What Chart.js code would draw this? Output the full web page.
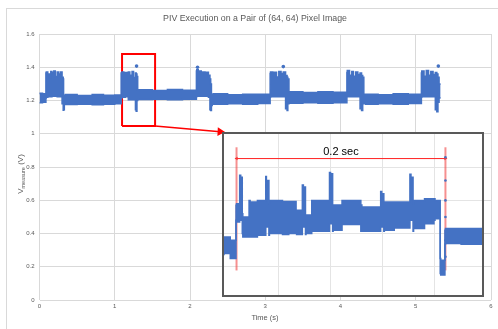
<!DOCTYPE html>
<html>
<head>
<meta charset="utf-8">
<script src="https://cdn.jsdelivr.net/npm/chart.js@4.4.1/dist/chart.umd.min.js"></script>
<style>
    html, body { margin: 0; padding: 0; background: #fff; }
    #wrap { position: relative; width: 498px; height: 329px; overflow: hidden; }
    #frame { position: absolute; left: 6px; top: 8px; width: 600px; height: 400px; border-left: 1px solid #d9d9d9; border-top: 1px solid #d9d9d9; }
    #mainChart { position: absolute; left: 0; top: 0; }
    #insetBox { position: absolute; background: #fff; border: 2px solid #595959; box-sizing: border-box; }
    #insetChart { display: block; }
</style>
</head>
<body>
<div id="wrap">
    <div id="frame"></div>
    <canvas id="mainChart" width="498" height="329"></canvas>
    <div id="insetBox"><canvas id="insetChart"></canvas></div>
</div>
<script>
const FONT = "'Liberation Sans', Arial, sans-serif";
const BLUE = '#4472C4';

// main trace, drawn as the band between an upper and a lower envelope
const mainT = [0.00, 0.04, 0.085, 0.09, 0.11, 0.13, 0.15, 0.165, 0.19, 0.21, 0.235, 0.255, 0.28, 0.30, 0.315, 0.32, 0.33, 0.345,
    0.50, 0.70, 0.85, 1.00, 1.085, 1.095, 1.12, 1.14, 1.16, 1.18, 1.20, 1.23, 1.25, 1.275, 1.285, 1.295, 1.305, 1.315,
    1.50, 1.70, 1.90, 2.085, 2.09, 2.11, 2.13, 2.15, 2.17, 2.20, 2.22, 2.245, 2.265, 2.275, 2.285, 2.295, 2.31,
    2.50, 2.70, 2.90, 3.065, 3.07, 3.10, 3.12, 3.15, 3.18, 3.21, 3.24, 3.27, 3.29, 3.30, 3.315, 3.325,
    3.50, 3.70, 3.90, 4.085, 4.09, 4.12, 4.15, 4.17, 4.20, 4.23, 4.26, 4.28, 4.295, 4.31, 4.335,
    4.50, 4.70, 4.90, 5.075, 5.08, 5.11, 5.14, 5.17, 5.20, 5.23, 5.26, 5.28, 5.295, 5.31, 5.33];
const mainHi = [1.238, 1.243, 1.240, 1.365, 1.372, 1.360, 1.335, 1.375, 1.368, 1.378, 1.345, 1.372, 1.360, 1.372, 1.340, 1.330, 1.232, 1.232,
    1.236, 1.230, 1.236, 1.232, 1.233, 1.365, 1.372, 1.340, 1.368, 1.335, 1.372, 1.352, 1.375, 1.338, 1.365, 1.360, 1.345, 1.262,
    1.265, 1.260, 1.266, 1.262, 1.378, 1.385, 1.362, 1.378, 1.352, 1.372, 1.342, 1.370, 1.352, 1.330, 1.300, 1.237, 1.237,
    1.240, 1.235, 1.238, 1.237, 1.362, 1.372, 1.352, 1.370, 1.342, 1.375, 1.362, 1.372, 1.350, 1.340, 1.330, 1.250,
    1.252, 1.248, 1.253, 1.250, 1.368, 1.380, 1.352, 1.375, 1.346, 1.372, 1.356, 1.365, 1.350, 1.340, 1.237,
    1.238, 1.235, 1.240, 1.237, 1.365, 1.378, 1.346, 1.380, 1.352, 1.375, 1.356, 1.368, 1.360, 1.340, 1.300];
const mainLo = [1.188, 1.186, 1.190, 1.215, 1.220, 1.222, 1.222, 1.222, 1.225, 1.225, 1.225, 1.222, 1.222, 1.222, 1.180, 1.142, 1.145, 1.178,
    1.176, 1.178, 1.175, 1.178, 1.180, 1.215, 1.220, 1.220, 1.222, 1.222, 1.205, 1.205, 1.205, 1.205, 1.145, 1.135, 1.200, 1.207,
    1.206, 1.208, 1.205, 1.208, 1.222, 1.225, 1.225, 1.225, 1.225, 1.225, 1.225, 1.225, 1.220, 1.145, 1.140, 1.170, 1.180,
    1.178, 1.180, 1.178, 1.182, 1.220, 1.222, 1.222, 1.222, 1.222, 1.222, 1.222, 1.222, 1.150, 1.140, 1.180, 1.185,
    1.184, 1.186, 1.183, 1.186, 1.222, 1.222, 1.222, 1.222, 1.222, 1.222, 1.222, 1.150, 1.140, 1.185, 1.180,
    1.178, 1.180, 1.178, 1.182, 1.220, 1.222, 1.222, 1.222, 1.222, 1.222, 1.222, 1.145, 1.133, 1.190, 1.215];

// isolated high points above the bursts
const spikeT = [1.29, 2.10, 3.24, 5.30];
const spikeV = [1.407, 1.400, 1.404, 1.407];

// red zoom rectangle and the arrow to the inset
const zoomBoxT = [1.097, 1.097, 1.536, 1.536, 1.097];
const zoomBoxV = [1.047, 1.480, 1.480, 1.047, 1.047];
const arrowT = [1.536, 2.40];
const arrowV = [1.047, 1.012];

// where the inset sits, in main chart units
const insetBoxT = [2.427, 5.911];
const insetBoxV = [1.0105, 0.018];

// inset trace (time in ms)
const insetT = [-2, 4, 9.5, 10, 13, 14, 15.5, 16, 22, 23, 30, 38, 38.6, 41, 41.5, 54, 60, 67, 67.5, 73,
    74, 76, 76.5, 82, 83, 99, 100, 102, 102.5, 111, 111.5, 129, 130, 148, 149, 151, 151.5, 161, 162, 176,
    177, 179, 179.5, 190, 199, 200, 205, 205.5, 209.5, 210, 225, 245];
const insetHi = [1.185, 1.19, 1.18, 1.285, 1.29, 1.376, 1.37, 1.26, 1.25, 1.30, 1.295, 1.30, 1.372, 1.36, 1.29, 1.30, 1.297, 1.297, 1.27, 1.27,
    1.346, 1.34, 1.256, 1.256, 1.30, 1.30, 1.384, 1.38, 1.286, 1.286, 1.30, 1.30, 1.286, 1.28, 1.327, 1.32, 1.295, 1.295, 1.295, 1.295,
    1.379, 1.37, 1.29, 1.30, 1.305, 1.305, 1.30, 1.125, 1.12, 1.21, 1.215, 1.215];
const insetLo = [1.135, 1.14, 1.125, 1.24, 1.235, 1.25, 1.24, 1.20, 1.19, 1.195, 1.19, 1.195, 1.22, 1.22, 1.195, 1.20, 1.197, 1.20, 1.20, 1.197,
    1.22, 1.22, 1.197, 1.20, 1.207, 1.207, 1.23, 1.23, 1.207, 1.21, 1.227, 1.227, 1.207, 1.207, 1.22, 1.22, 1.207, 1.21, 1.217, 1.217,
    1.24, 1.24, 1.207, 1.215, 1.23, 1.24, 1.245, 1.08, 1.075, 1.168, 1.17, 1.168];
// dots along the right marker
const insetEdgeT = [210, 210, 210, 210, 210, 210];
const insetEdgeV = [1.13, 1.18, 1.25, 1.30, 1.36, 1.43];

// 0.2 sec markers
const markerT = [10, 210];
const markerV = [1.089, 1.460];
const spanV = 1.426;
const spanLabel = '0.2 sec';
const spanLabelT = 110;
const spanLabelV = 1.447;

const insetGridT = [50, 100, 150, 200];
const insetGridV = [1.1, 1.2, 1.3, 1.4];

/**
 * Zips two arrays into {x, y} points.
 */
function toPoints(xs, ys) {
    return xs.map((x, i) => ({ x: x, y: ys[i] }));
}

/**
 * Draws the title and axis titles of the main chart.
 */
const mainTextPlugin = {
    id: 'mainText',
    afterDraw(chart) {
        const ctx = chart.ctx;
        ctx.save();
        ctx.fillStyle = '#595959';
        ctx.textBaseline = 'middle';
        ctx.textAlign = 'center';
        ctx.font = '8.8px ' + FONT;
        ctx.fillText('PIV Execution on a Pair of (64, 64) Pixel Image', 255, 19);
        ctx.font = '7.5px ' + FONT;
        ctx.fillText('Time (s)', 265, 318);

        // y title with subscript
        ctx.translate(20, 174);
        ctx.rotate(-Math.PI / 2);
        ctx.textAlign = 'left';
        ctx.textBaseline = 'alphabetic';
        const big = '8px ' + FONT;
        const small = '5.5px ' + FONT;
        ctx.font = big;
        const w1 = ctx.measureText('V').width;
        const w3 = ctx.measureText(' (V)').width;
        ctx.font = small;
        const w2 = ctx.measureText('measure').width;
        let x = -(w1 + w2 + w3) / 2;
        ctx.font = big;
        ctx.fillText('V', x, 3);
        x += w1;
        ctx.font = small;
        ctx.fillText('measure', x, 5);
        x += w2;
        ctx.font = big;
        ctx.fillText(' (V)', x, 3);
        ctx.restore();
    }
};

/**
 * Draws the span label of the inset.
 */
const insetTextPlugin = {
    id: 'insetText',
    afterDraw(chart) {
        const ctx = chart.ctx;
        ctx.save();
        ctx.fillStyle = '#000';
        ctx.font = '11px ' + FONT;
        ctx.textAlign = 'center';
        ctx.textBaseline = 'middle';
        ctx.fillText(spanLabel, chart.scales.x.getPixelForValue(spanLabelT), chart.scales.y.getPixelForValue(spanLabelV));
        ctx.restore();
    }
};

const mainChart = new Chart(document.getElementById('mainChart'), {
    type: 'line',
    data: {
        datasets: [
            {
                data: toPoints(mainT, mainHi), stepped: 'after',
                borderColor: BLUE, borderWidth: 1.5, pointRadius: 0, fill: false
            },
            {
                data: toPoints(mainT, mainLo), stepped: 'after',
                borderColor: BLUE, borderWidth: 1.5, pointRadius: 0, fill: '-1', backgroundColor: BLUE
            },
            {
                data: toPoints(spikeT, spikeV),
                showLine: false, pointRadius: 1.8, pointBackgroundColor: BLUE, pointBorderWidth: 0
            },
            {
                data: toPoints(zoomBoxT, zoomBoxV),
                borderColor: '#ff0000', borderWidth: 2, pointRadius: 0, fill: false
            },
            {
                data: toPoints(arrowT, arrowV),
                borderColor: '#ff0000', borderWidth: 1.5, fill: false,
                pointRadius: [0, 3.5], pointStyle: 'triangle', pointRotation: 93,
                pointBackgroundColor: '#ff0000', pointBorderColor: '#ff0000'
            }
        ]
    },
    options: {
        responsive: false,
        animation: false,
        events: [],
        layout: { autoPadding: false, padding: { left: 0, right: 7, top: 34, bottom: 0 } },
        plugins: { legend: { display: false }, tooltip: { enabled: false } },
        scales: {
            x: {
                type: 'linear', min: 0, max: 6,
                ticks: { stepSize: 1, padding: 3, color: '#595959', font: { family: FONT, size: 6 } },
                grid: { color: '#d9d9d9', drawTicks: false },
                border: { display: false },
                afterFit: s => { s.height = 29; }
            },
            y: {
                type: 'linear', min: 0, max: 1.6,
                ticks: {
                    stepSize: 0.2, padding: 5, color: '#595959', font: { family: FONT, size: 6 },
                    callback: v => String(Number(v.toFixed(1)))
                },
                grid: { color: '#d9d9d9', drawTicks: false },
                border: { display: false },
                afterFit: s => { s.width = 39.5; }
            }
        }
    },
    plugins: [mainTextPlugin]
});

// place the inset over the main chart
const sx = mainChart.scales.x;
const sy = mainChart.scales.y;
const boxLeft = Math.round(sx.getPixelForValue(insetBoxT[0]));
const boxRight = Math.round(sx.getPixelForValue(insetBoxT[1]));
const boxTop = Math.round(sy.getPixelForValue(insetBoxV[0]));
const boxBottom = Math.round(sy.getPixelForValue(insetBoxV[1]));
const insetBox = document.getElementById('insetBox');
insetBox.style.left = boxLeft + 'px';
insetBox.style.top = boxTop + 'px';
insetBox.style.width = (boxRight - boxLeft) + 'px';
insetBox.style.height = (boxBottom - boxTop) + 'px';
const insetCanvas = document.getElementById('insetChart');
insetCanvas.width = boxRight - boxLeft - 4;
insetCanvas.height = boxBottom - boxTop - 4;

new Chart(insetCanvas, {
    type: 'line',
    data: {
        datasets: [
            {
                data: toPoints(insetT, insetHi), stepped: 'after',
                borderColor: BLUE, borderWidth: 1.5, pointRadius: 0, fill: false
            },
            {
                data: toPoints(insetT, insetLo), stepped: 'after',
                borderColor: BLUE, borderWidth: 1.5, pointRadius: 0, fill: '-1', backgroundColor: BLUE
            },
            {
                data: toPoints(insetEdgeT, insetEdgeV),
                showLine: false, pointRadius: 1.3, pointBackgroundColor: BLUE, pointBorderWidth: 0
            },
            {
                data: toPoints([markerT[0], markerT[0]], markerV),
                borderColor: 'rgba(240, 70, 70, 0.6)', borderWidth: 2, pointRadius: 0
            },
            {
                data: toPoints([markerT[1], markerT[1]], markerV),
                borderColor: 'rgba(240, 70, 70, 0.6)', borderWidth: 2, pointRadius: 0
            },
            {
                data: toPoints(markerT, [spanV, spanV]),
                borderColor: '#ff2020', borderWidth: 1,
                pointRadius: 2, pointStyle: 'triangle', pointRotation: [270, 90],
                pointBackgroundColor: '#ff2020', pointBorderWidth: 0
            }
        ]
    },
    options: {
        responsive: false,
        animation: false,
        events: [],
        layout: { autoPadding: false, padding: 0 },
        plugins: { legend: { display: false }, tooltip: { enabled: false } },
        scales: {
            x: {
                type: 'linear', min: -2, max: 245,
                ticks: { display: false },
                grid: { color: '#e4e4e4', drawTicks: false },
                border: { display: false },
                afterBuildTicks: s => { s.ticks = insetGridT.map(v => ({ value: v })); },
                afterFit: s => { s.height = 0; }
            },
            y: {
                type: 'linear', min: 1.015, max: 1.5,
                ticks: { display: false },
                grid: { color: '#e4e4e4', drawTicks: false },
                border: { display: false },
                afterBuildTicks: s => { s.ticks = insetGridV.map(v => ({ value: v })); },
                afterFit: s => { s.width = 0; }
            }
        }
    },
    plugins: [insetTextPlugin]
});
</script>
</body>
</html>
